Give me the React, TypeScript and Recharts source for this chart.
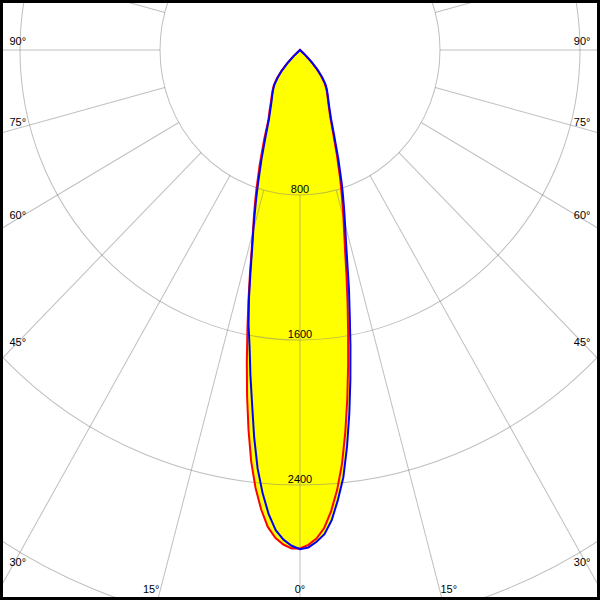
import React from 'react';
import { RadarChart, Radar, PolarGrid, PolarAngleAxis, PolarRadiusAxis } from 'recharts';

// gamma angles (deg from nadir) and luminous intensities (cd)
const gammaAngles = [0, 1, 2, 3, 4, 5, 6, 7, 8, 9, 10, 11, 12, 13, 14, 15, 16, 17, 18, 20, 22.5, 25, 27.5, 30, 32.5, 35, 37.5, 40, 42.5, 45, 47.5, 180];

const blueRight = [2754, 2745, 2715, 2675, 2600, 2490, 2370, 2205, 2025, 1840, 1660, 1490, 1345, 1200, 1085, 995, 915, 840, 770, 640, 510, 420, 365, 325, 295, 268, 240, 198, 150, 95, 40, 0];
const blueLeft = [2754, 2736, 2703, 2653, 2567, 2454, 2320, 2151, 1969, 1813, 1660, 1541, 1403, 1258, 1131, 1031, 939, 855, 777, 645, 512, 420, 365, 325, 295, 268, 240, 198, 150, 95, 40, 0];
const redRight = [2750, 2731, 2697, 2641, 2550, 2436, 2296, 2124, 1942, 1759, 1584, 1425, 1280, 1148, 1045, 959, 881, 808, 741, 617, 494, 410, 358, 320, 290, 263, 232, 189, 140, 85, 33, 0];
const redLeft = [2750, 2750, 2730, 2695, 2638, 2545, 2430, 2288, 2115, 1933, 1750, 1575, 1418, 1273, 1143, 1040, 955, 878, 805, 673, 536, 428, 376, 333, 301, 273, 246, 206, 160, 106, 51, 0];

const ringTicks = [800, 1600, 2400, 3200];
const angleTicks = [-165, -150, -135, -120, -105, -90, -75, -60, -45, -30, -15, 0, 15, 30, 45, 60, 75, 90, 105, 120, 135, 150, 165, 180];

const R_MAX = 4000;
const OUTER_R = 700;
const S = 145 / 140; // vertical stretch of the reference picture
const CHART_W = 600;
const CHART_H = 580;
const CX = 300;
const CY = 50 / S;
const INNER_R = (OUTER_R * ringTicks[0]) / R_MAX;
const FONT = 'Liberation Sans, Arial, sans-serif';
const GRID_STROKE = '#808080';
const GRID_OPACITY = 0.5;

// left half-plane (negative angles, without the shared 0° and the back point), then right half-plane
const rows: { theta: number; red: number; blue: number }[] = [];
for (let i = gammaAngles.length - 2; i > 0; i--) {
  rows.push({ theta: -gammaAngles[i], red: redLeft[i], blue: blueLeft[i] });
}
for (let i = 0; i < gammaAngles.length; i++) {
  rows.push({ theta: gammaAngles[i], red: redRight[i], blue: blueRight[i] });
}

const LEFT_X = 9.5;
const RIGHT_X = 590.5;
const BOTTOM_Y = 593 / S;
const LIFT = 5 / S;

const AngleTick = (props: any) => {
  const { payload } = props;
  const cx = typeof props.cx === 'number' ? props.cx : CX;
  const cy = typeof props.cy === 'number' ? props.cy : CY;
  const a = (-payload.coordinate * Math.PI) / 180;
  const dx = Math.cos(a);
  const dy = Math.sin(a);
  const theta = Number(payload.value);
  let label: React.ReactNode = null;
  if (Math.abs(theta) <= 90) {
    let x = cx;
    let y = BOTTOM_Y;
    let anchor: 'start' | 'middle' | 'end' = 'middle';
    if (theta !== 0) {
      const side = dx < 0 ? -1 : 1;
      const edgeX = side < 0 ? LEFT_X : RIGHT_X;
      const tX = (edgeX - cx) / dx;
      const tY = dy > 1e-9 ? (BOTTOM_Y - cy) / dy : Infinity;
      if (tX <= tY) {
        x = edgeX;
        y = cy + dy * tX - LIFT;
        anchor = side < 0 ? 'start' : 'end';
      } else {
        x = cx + dx * tY;
        y = BOTTOM_Y;
        anchor = side < 0 ? 'end' : 'start';
      }
    }
    label = (
      <text x={x} y={y} textAnchor={anchor} fontSize={11} fontFamily={FONT} fill="#000" stroke="none">
        {`${Math.abs(theta)}°`}
      </text>
    );
  }
  return (
    <g>
      <line
        x1={cx + dx * INNER_R}
        y1={cy + dy * INNER_R}
        x2={cx + dx * OUTER_R}
        y2={cy + dy * OUTER_R}
        stroke={GRID_STROKE}
        strokeOpacity={GRID_OPACITY}
        strokeWidth={1}
      />
      {label}
    </g>
  );
};

const RadiusTick = (props: any) => {
  const { x, y, payload } = props;
  if (y > CHART_H - 5) return <g />;
  return (
    <text x={x} y={y - 2 / S} textAnchor="middle" fontSize={11} fontFamily={FONT} fill="#000" stroke="none">
      {payload.value}
    </text>
  );
};

export default function App() {
  return (
    <div style={{ position: 'absolute', left: 0, top: 0, width: 600, height: 600, overflow: 'hidden', background: '#fff' }}>
      <div style={{ width: CHART_W, height: CHART_H, transform: `scaleY(${S})`, transformOrigin: '0 0' }}>
        <RadarChart
          width={CHART_W}
          height={CHART_H}
          data={rows}
          cx={CX}
          cy={CY}
          innerRadius={0}
          outerRadius={OUTER_R}
          startAngle={-270}
          endAngle={90}
          margin={{ top: 0, right: 0, bottom: 0, left: 0 }}
        >
          <Radar dataKey="red" fill="#ffff00" fillOpacity={1} stroke="none" dot={false} activeDot={false} isAnimationActive={false} zIndex={100} />
          <Radar dataKey="blue" fill="#ffff00" fillOpacity={1} stroke="none" dot={false} activeDot={false} isAnimationActive={false} zIndex={101} />
          <PolarGrid gridType="circle" radialLines={false} stroke={GRID_STROKE} strokeOpacity={GRID_OPACITY} zIndex={150} />
          <PolarAngleAxis
            dataKey="theta"
            type="number"
            domain={[-180, 180]}
            ticks={angleTicks}
            axisLine={false}
            tickLine={false}
            tick={AngleTick}
            zIndex={160}
          />
          <Radar dataKey="red" fill="none" fillOpacity={0} stroke="#ff0000" strokeWidth={2} dot={false} activeDot={false} isAnimationActive={false} zIndex={600} />
          <Radar dataKey="blue" fill="none" fillOpacity={0} stroke="#0000ff" strokeWidth={2} dot={false} activeDot={false} isAnimationActive={false} zIndex={610} />
          <PolarRadiusAxis
            angle={-90}
            type="number"
            domain={[0, R_MAX]}
            ticks={ringTicks}
            axisLine={false}
            tickLine={false}
            tick={RadiusTick}
            zIndex={700}
          />
        </RadarChart>
      </div>
      <div style={{ position: 'absolute', left: 0, top: 0, width: 600, height: 600, boxSizing: 'border-box', border: '3px solid #000', pointerEvents: 'none' }} />
    </div>
  );
}
